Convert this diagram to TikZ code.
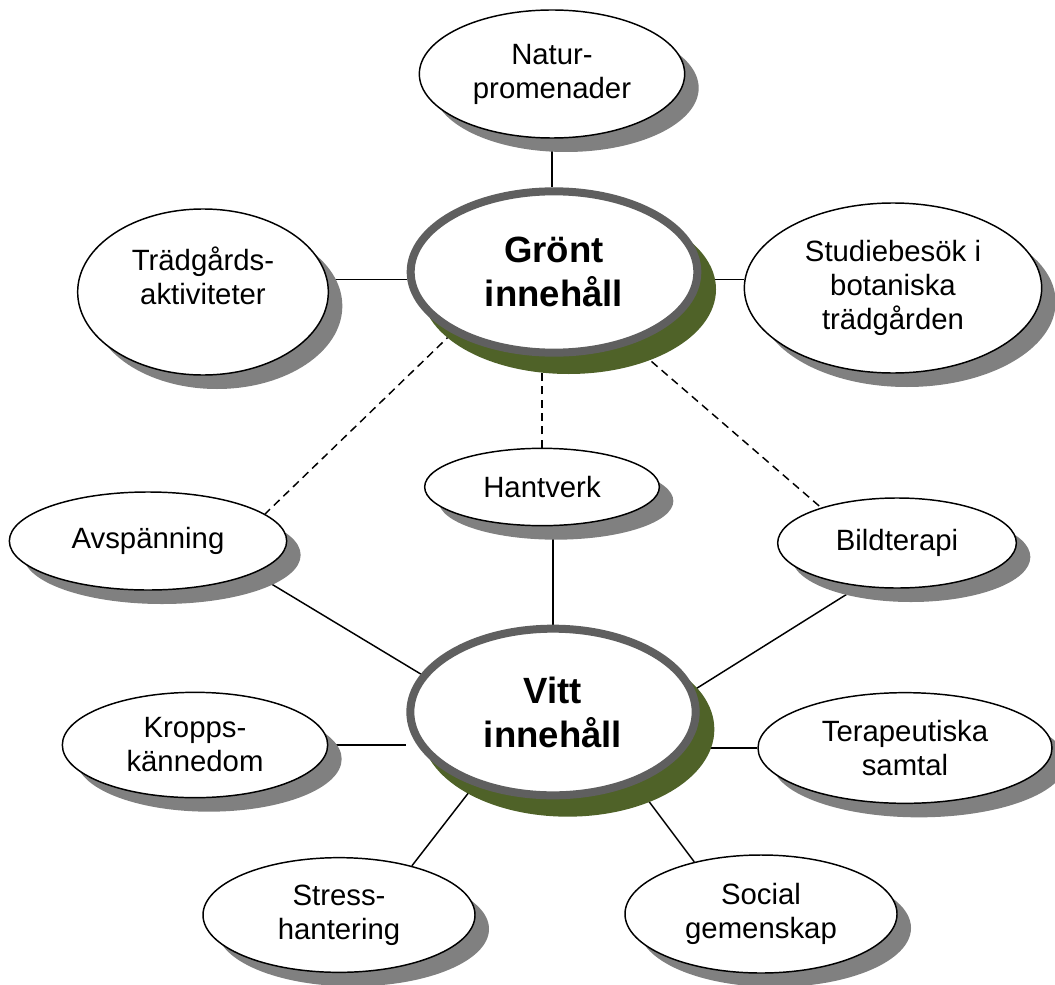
\documentclass[tikz,border=0pt]{standalone}
\usepackage{fontspec}
\setmainfont{Liberation Sans}
\usepackage{xcolor}
\usepackage{tikz}
\usetikzlibrary{shapes.geometric,shadows,backgrounds}
\definecolor{hubgreen}{RGB}{79, 98, 40}
\definecolor{hubgray}{RGB}{95, 95, 95}
\definecolor{shadowgray}{RGB}{128, 128, 128}

\begin{document}
\begin{tikzpicture}[x=0.75pt, y=-0.75pt,
            leaf/.style = {ellipse, draw=black, line width=1.1pt, fill=white, inner sep=0pt, align=center,
                           font=\fontsize{22}{25.5}\selectfont,
                           drop shadow={shadow xshift=10.5pt, shadow yshift=-10.5pt, fill=shadowgray, opacity=1}},
             hub/.style = {ellipse, draw=hubgray, line width=6pt, fill=white, inner sep=0pt, align=center,
                           font=\fontsize{27.4}{33}\selectfont\bfseries,
                           drop shadow={shadow xshift=11pt, shadow yshift=-13pt, fill=hubgreen, draw=hubgreen, line width=6pt, opacity=1}},
            link/.style = {draw=black, line width=1.1pt},
        dashlink/.style = {link, dash pattern=on 6pt off 4pt}]
    \useasboundingbox (0,0) rectangle (1055,984);

    % green content
    \node[hub,  minimum width=215pt, minimum height=121pt]   (gront)   at (554,272) {Grönt\\innehåll};
    \node[leaf, minimum width=199pt, minimum height=96pt]    (natur)   at (552,74)  {Natur-\\promenader};
    \node[leaf, minimum width=188pt, minimum height=124.5pt, text depth=24pt] (tradg) at (203,292) {Trädgårds-\\aktiviteter};
    \node[leaf, minimum width=223pt, minimum height=127.5pt] (studie)  at (893,288) {Studiebesök i\\botaniska\\trädgården};

    % shared
    \node[leaf, minimum width=208pt, minimum height=73.5pt]  (avsp)    at (148,541) {Avspänning};
    \node[leaf, minimum width=176pt, minimum height=58pt]    (hant)    at (542,487) {Hantverk};
    \node[leaf, minimum width=179pt, minimum height=67.5pt]  (bild)    at (897,543) {Bildterapi};

    % white content
    \node[hub,  minimum width=214pt, minimum height=125pt]   (vitt)    at (553,712) {Vitt\\innehåll};
    \node[leaf, minimum width=199pt, minimum height=79pt]    (kropps)  at (195,745) {Kropps-\\kännedom};
    \node[leaf, minimum width=220.5pt, minimum height=83pt]  (terap)   at (905,748) {Terapeutiska\\samtal};
    \node[leaf, minimum width=204pt, minimum height=86pt]    (stress)  at (339,915) {Stress-\\hantering};
    \node[leaf, minimum width=204pt, minimum height=88.5pt]  (social)  at (761,914) {Social\\gemenskap};

    \begin{scope}[on background layer]
        \draw[link] (natur.south) -- (natur.south |- gront.north);
        \draw[link] (gront.183) -- (gront.183 -| tradg.east);
        \draw[link] (gront.-3) -- (gront.-3 -| studie.west);
        \draw[dashlink] (gront.211.5) -- (avsp.13.7);
        \draw[dashlink] (hant.north) -- (hant.north |- gront.south);
        \draw[dashlink] (gront.-43) -- (bild.155);
        \draw[link] (vitt.north) -- (vitt.north |- hant.south);
        \draw[link] (avsp.-17.4) -- (vitt.164.3);
        \draw[link] (bild.229.5) -- (vitt.9.2);
        \draw[link] (kropps.east) -- (kropps.east -| vitt.west);
        \draw[link] (terap.west) -- (terap.west -| vitt.east);
        \draw[link] (stress.34) -- (vitt.223.3);
        \draw[link] (social.142.6) -- (vitt.-41.3);
    \end{scope}
\end{tikzpicture}
\end{document}
